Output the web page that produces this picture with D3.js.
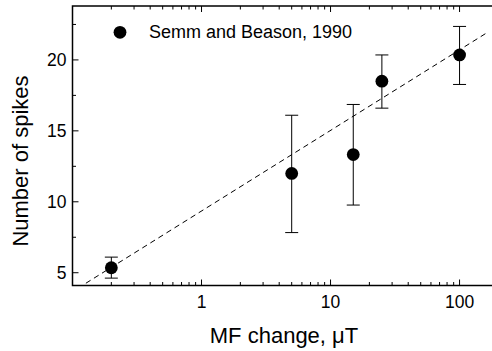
<!DOCTYPE html>
<html>
<head>
<meta charset="utf-8">
<script src="https://cdn.jsdelivr.net/npm/d3@7"></script>
<style>
  html, body { margin: 0; padding: 0; background: #fff; }
  svg { display: block; overflow: hidden; }
</style>
</head>
<body>
<div id="chart"></div>
<script>
// data
const fieldChange = [0.2, 5, 15, 25, 100];       // MF change, uT
const spikes = [5.35, 12.0, 13.33, 18.5, 20.35];
const errLow = [4.62, 7.83, 9.77, 16.6, 18.27];
const errHigh = [6.1, 16.1, 16.86, 20.35, 22.36];

// fitted dashed line endpoints
const fitX = [0.127, 162];
const fitY = [4.26, 21.9];

const yTicks = [5, 10, 15, 20];
const yMinor = [7.5, 12.5, 17.5, 22.5];
const xTicks = [1, 10, 100];
const legendLabel = "Semm and Beason, 1990";

const W = 492, H = 351;
const plot = { left: 72.5, top: 6, right: 498.4, bottom: 285.5 };
const font = "'Liberation Sans', Arial, sans-serif";

const svg = d3.select("#chart").append("svg")
  .attr("width", W)
  .attr("height", H);

const x = d3.scaleLog().domain([0.1, 200]).range([plot.left, plot.right]);
const y = d3.scaleLinear().domain([4.1, 23.8]).range([plot.bottom, plot.top]);

const xMinor = [];
[0.1, 1, 10, 100].forEach((d) => {
  for (let k = 2; k <= 9; k++) if (d * k <= 200) xMinor.push(d * k);
});

// frame ticks (all inside)
const g = svg.append("g");

g.selectAll(".xmaj-b").data(xTicks).enter().append("line")
  .attr("x1", (d) => x(d)).attr("x2", (d) => x(d))
  .attr("y1", plot.bottom).attr("y2", plot.bottom - 6);
g.selectAll(".xmin-b").data(xMinor).enter().append("line")
  .attr("x1", (d) => x(d)).attr("x2", (d) => x(d))
  .attr("y1", plot.bottom).attr("y2", plot.bottom - 3.5);
g.selectAll(".xmaj-t").data(xTicks).enter().append("line")
  .attr("x1", (d) => x(d)).attr("x2", (d) => x(d))
  .attr("y1", plot.top).attr("y2", plot.top + 6);
g.selectAll(".xmin-t").data(xMinor).enter().append("line")
  .attr("x1", (d) => x(d)).attr("x2", (d) => x(d))
  .attr("y1", plot.top).attr("y2", plot.top + 3.5);
g.selectAll(".ymaj").data(yTicks).enter().append("line")
  .attr("x1", plot.left).attr("x2", plot.left + 6)
  .attr("y1", (d) => y(d)).attr("y2", (d) => y(d));
g.selectAll(".ymin").data(yMinor).enter().append("line")
  .attr("x1", plot.left).attr("x2", plot.left + 3.5)
  .attr("y1", (d) => y(d)).attr("y2", (d) => y(d));
g.selectAll("line").attr("stroke", "#000").attr("stroke-width", 1);

svg.append("rect")
  .attr("x", plot.left).attr("y", plot.top)
  .attr("width", plot.right - plot.left).attr("height", plot.bottom - plot.top)
  .attr("fill", "none")
  .attr("stroke", "#000")
  .attr("stroke-width", 1.5);

// tick labels
svg.selectAll(".xlab").data(xTicks).enter().append("text")
  .attr("x", (d) => x(d))
  .attr("y", 307.5)
  .attr("text-anchor", "middle")
  .style("font-family", font)
  .style("font-size", "17.5px")
  .text((d) => d);

svg.selectAll(".ylab").data(yTicks).enter().append("text")
  .attr("x", 66.5)
  .attr("y", (d) => y(d))
  .attr("dy", "0.36em")
  .attr("text-anchor", "end")
  .style("font-family", font)
  .style("font-size", "17.5px")
  .text((d) => d);

// axis titles
svg.append("text")
  .attr("x", 284)
  .attr("y", 343)
  .attr("text-anchor", "middle")
  .style("font-family", font)
  .style("font-size", "22px")
  .text("MF change, \u03bcT");

svg.append("text")
  .attr("transform", "translate(28,161) rotate(-90)")
  .attr("text-anchor", "middle")
  .style("font-family", font)
  .style("font-size", "22px")
  .text("Number of spikes");

// fit line
const line = d3.line().x((d) => x(d[0])).y((d) => y(d[1]));
svg.append("path")
  .datum(d3.zip(fitX, fitY))
  .attr("d", line)
  .attr("fill", "none")
  .attr("stroke", "#000")
  .attr("stroke-width", 1)
  .attr("stroke-dasharray", "5.5,4");

// error bars
const pts = fieldChange.map((d, i) => ({ x: d, y: spikes[i], lo: errLow[i], hi: errHigh[i] }));
const eb = svg.append("g").attr("stroke", "#000").attr("stroke-width", 1);
eb.selectAll(".stem").data(pts).enter().append("line")
  .attr("x1", (d) => x(d.x)).attr("x2", (d) => x(d.x))
  .attr("y1", (d) => y(d.lo)).attr("y2", (d) => y(d.hi));
eb.selectAll(".caphi").data(pts).enter().append("line")
  .attr("x1", (d) => x(d.x) - 6.5).attr("x2", (d) => x(d.x) + 6.5)
  .attr("y1", (d) => y(d.hi)).attr("y2", (d) => y(d.hi));
eb.selectAll(".caplo").data(pts).enter().append("line")
  .attr("x1", (d) => x(d.x) - 6.5).attr("x2", (d) => x(d.x) + 6.5)
  .attr("y1", (d) => y(d.lo)).attr("y2", (d) => y(d.lo));

// points
svg.selectAll(".pt").data(pts).enter().append("circle")
  .attr("cx", (d) => x(d.x))
  .attr("cy", (d) => y(d.y))
  .attr("r", 6.4)
  .attr("fill", "#000");

// legend
svg.append("circle")
  .attr("cx", 120).attr("cy", 32.3).attr("r", 6.4).attr("fill", "#000");
svg.append("text")
  .attr("x", 149)
  .attr("y", 38.2)
  .style("font-family", font)
  .style("font-size", "18px")
  .text(legendLabel);
</script>
</body>
</html>
